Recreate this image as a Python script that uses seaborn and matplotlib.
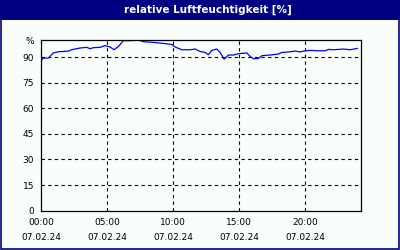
import pandas as pd
import matplotlib.pyplot as plt
import seaborn as sns
from matplotlib.patches import Rectangle
from matplotlib.ticker import MultipleLocator

# Stunden seit 00:00 und relative Luftfeuchtigkeit in %
hours = [0.0, 0.05, 0.17, 0.55, 0.93, 1.31, 1.69, 2.07, 2.32, 2.95, 3.46, 3.71, 3.96,
         4.47, 4.85, 5.23, 5.53, 5.86, 6.23, 6.74, 7.37, 7.75, 8.51, 9.27, 9.9, 10.15,
         10.66, 11.29, 11.67, 11.92, 12.05, 12.42, 12.67, 12.93, 13.31, 13.56, 13.86,
         14.19, 14.57, 14.95, 15.58, 15.83, 16.08, 16.46, 16.72, 17.35, 17.98, 18.23,
         18.86, 19.24, 19.62, 20.0, 20.38, 20.88, 21.52, 21.77, 22.15, 22.9, 23.4, 23.96]
humidity = [86.0, 88.4, 89.4, 89.4, 92.4, 93.1, 93.3, 93.5, 94.3, 95.3, 95.7, 94.9, 95.5,
            95.7, 96.7, 95.9, 94.3, 96.2, 99.6, 99.6, 100.0, 99.0, 98.6, 98.0, 97.4, 95.9,
            94.3, 94.3, 94.7, 93.7, 93.3, 92.7, 91.4, 93.9, 94.7, 92.7, 88.8,
            91.2, 91.2, 92.0, 92.4, 90.4, 89.0, 89.2, 90.8, 91.2, 91.8, 92.7,
            93.1, 93.5, 93.0, 93.7, 93.9, 93.7, 93.7, 94.5, 94.3, 94.7, 94.3, 95.1]

x_ticks = [0, 5, 10, 15, 20]
x_labels = ["00:00\n07.02.24", "05:00\n07.02.24", "10:00\n07.02.24",
            "15:00\n07.02.24", "20:00\n07.02.24"]
y_ticks = [0, 15, 30, 45, 60, 75, 90, 100]
y_labels = ["0", "15", "30", "45", "60", "75", "90", "%"]
title = "relative Luftfeuchtigkeit [%]"

navy = "#000080"
bg = "#FAFEFA"

sns.set_style("white")
plt.rcParams["font.family"] = ["DejaVu Sans"]

df = pd.DataFrame({"stunde": hours, "rf": humidity})

fig = plt.figure(figsize=(4, 2.5), dpi=100, facecolor=bg)
ax = fig.add_axes([41 / 400, 1 - 210.7 / 250, 319.7 / 400, 170.7 / 250])
ax.set_facecolor(bg)

# Titelbalken und Rahmen
fig.patches.append(Rectangle((0, 1 - 20 / 250), 1, 20 / 250, transform=fig.transFigure,
                             facecolor=navy, edgecolor="none", zorder=0))
fig.patches.append(Rectangle((0.5 / 400, 1 / 250), 398.5 / 400, 248 / 250,
                             transform=fig.transFigure, facecolor="none",
                             edgecolor=navy, linewidth=1.2, zorder=0))
fig.text(208 / 400, 1 - 10 / 250, title, color="white", fontsize=7.5,
         fontweight="bold", ha="center", va="center")

sns.lineplot(data=df, x="stunde", y="rf", ax=ax, color="#0000FF", linewidth=0.9)

ax.set_xlim(0, 24.2)
ax.set_ylim(0, 100)
ax.set_xticks(x_ticks)
ax.set_xticklabels(x_labels, fontsize=6.5, linespacing=1.9)
ax.xaxis.set_minor_locator(MultipleLocator(1))
ax.set_yticks(y_ticks)
ax.set_yticklabels(y_labels, fontsize=6.5)
ax.tick_params(axis="both", which="major", direction="out", length=3, width=0.8,
               colors="black", pad=2)
ax.tick_params(axis="x", which="minor", direction="out", length=2, width=0.8)
ax.set_xlabel("")
ax.set_ylabel("")

for v in x_ticks[1:]:
    ax.axvline(v, color="black", linestyle=(0, (3, 3)), linewidth=0.8)
for v in y_ticks[1:-1]:
    ax.axhline(v, color="black", linestyle=(0, (3, 3)), linewidth=0.8)

for s in ax.spines.values():
    s.set_color("black")
    s.set_linewidth(0.9)

fig.savefig("out.png", dpi=100, facecolor=bg)
